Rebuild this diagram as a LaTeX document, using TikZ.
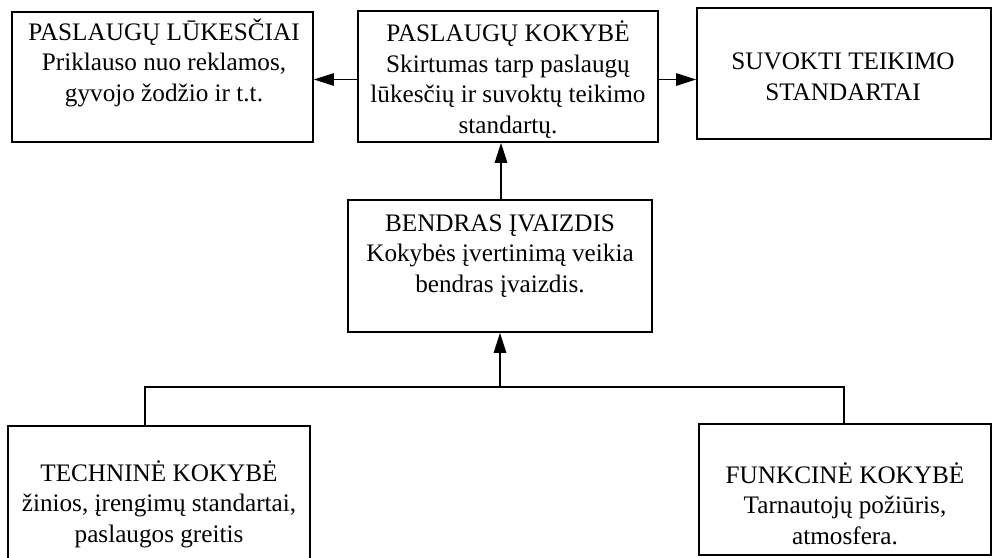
\documentclass[tikz,border=0pt]{standalone}
\usepackage{fontspec}
\setmainfont{Liberation Serif}
\usetikzlibrary{arrows.meta}

\begin{document}
\begin{tikzpicture}[x=1pt,y=-1pt,
  box/.style={draw,line width=1.8pt,inner sep=0pt,minimum width=#1},
  txt/.style={anchor=base,align=center,inner sep=0pt,
    font=\fontsize{25.2}{30.5}\selectfont},
  link/.style={line width=1.3pt},
  arr/.style={link,-{Triangle[length=20pt,width=12.5pt]}}]
\useasboundingbox (0,0) rectangle (992,557);

% boxes, given by corners
\node[box=301pt,minimum height=130pt] (luk) at (162.5,77) {};
\node[box=300pt,minimum height=131pt] (kok) at (508,76.5) {};
\node[box=294pt,minimum height=131pt] (suv) at (844,73.5) {};
\node[box=304pt,minimum height=132pt] (ivz) at (500,266) {};
\node[box=302pt,minimum height=150pt] (tech) at (159,501) {};
\node[box=292pt,minimum height=131pt] (funk) at (845,489.5) {};

% texts, placed by the baseline of their last line
\node[txt] (lukt) at (164,101) {PASLAUGŲ LŪKESČIAI\\Priklauso nuo reklamos,\\gyvojo žodžio ir t.t.};
\node[txt] (kokt) at (508,133) {PASLAUGŲ KOKYBĖ\\Skirtumas tarp paslaugų\\lūkesčių ir suvoktų teikimo\\standartų.};
\node[txt] (suvt) at (843,100) {SUVOKTI TEIKIMO\\STANDARTAI};
\node[txt] (ivzt) at (500,292) {BENDRAS ĮVAIZDIS\\Kokybės įvertinimą veikia\\bendras įvaizdis.};
\node[txt] (techt) at (159,542) {TECHNINĖ KOKYBĖ\\žinios, įrengimų standartai,\\paslaugos greitis};
\node[txt] (funkt) at (845,544) {FUNKCINĖ KOKYBĖ\\Tarnautojų požiūris,\\atmosfera.};

% connectors
\coordinate (bl) at (145,387);
\coordinate (br) at (844,387);
\coordinate (mid) at (500,387);
\coordinate (up) at (501,0);
\coordinate (row) at (0,79.5);

\draw[arr] (kok.west |- row) -- (luk.east |- row);
\draw[arr] (kok.east |- row) -- (suv.west |- row);
\draw[arr] (ivz.north -| up) -- (kok.south -| up);
\draw[arr] (mid) -- (ivz.south -| mid);
\draw[link] (tech.north -| bl) -- (bl) -- (br) -- (funk.north -| br);
\end{tikzpicture}
\end{document}
